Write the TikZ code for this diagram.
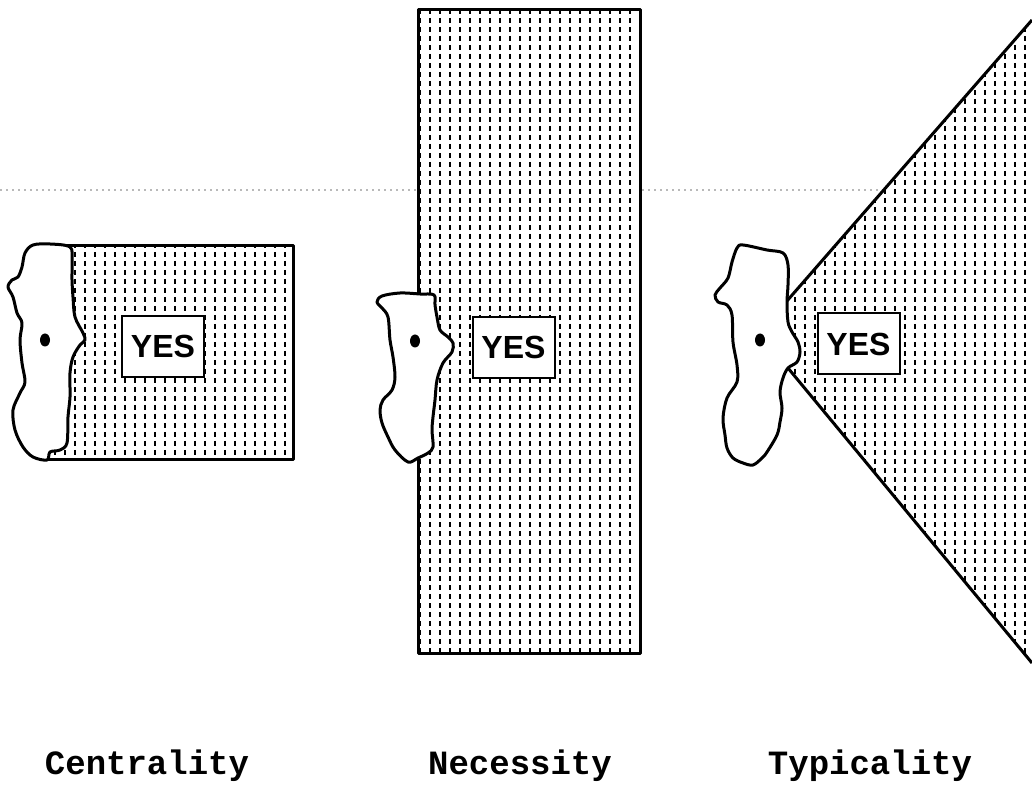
\documentclass[tikz,border=0pt]{standalone}
\usepackage{fontspec}
\newfontfamily\labelfont{Liberation Mono}
\newfontfamily\yesfont{Liberation Sans}
\begin{document}
\begin{tikzpicture}[x=0.5pt,y=-0.5pt,
  outline/.style={line width=1.5pt, line join=round},
  hatch/.style={line width=1.2pt, dash pattern=on 2.5pt off 2pt},
  blob/.style={outline, fill=white},
  dot/.style={fill=black},
  yesbox/.style={draw, line width=1pt, fill=white, minimum width=41pt, minimum height=30.5pt, inner sep=0pt,
    font=\yesfont\bfseries\fontsize{16}{16}\selectfont},
  caption/.style={font=\labelfont\bfseries\fontsize{17}{17}\selectfont, anchor=base, inner sep=0pt}]
\useasboundingbox[fill=white] (0,0) rectangle (1032,785);

% faint scanner line
\draw[gray!55, line width=0.6pt, dash pattern=on 1pt off 2pt] (0,190) -- (1032,190);

% ---------- Panel 1: Centrality ----------
\fill[white] (45,246) rectangle (293,460);
\begin{scope}
  \clip (45,246) rectangle (293,460);
  \foreach \x in {45,55,...,295} \draw[hatch] (\x,0) -- (\x,785);
\end{scope}
\draw[outline] (45,246) rectangle (293,460);
\draw[blob] plot[smooth cycle, tension=0.55] coordinates {
  (33,245) (50,244) (70,247) (72,260) (72,280) (73,297) (75,317) (83,333) (85,340) (80,345)
  (73,357) (70,373) (70,397) (68,417) (67,443) (60,450) (50,452) (47,460) (33,457) (23,447)
  (15,430) (13,410) (20,393) (25,382) (22,363) (20,340) (22,323) (17,313) (13,297) (8,287)
  (12,280) (18,277) (22,267) (25,253)};
\fill[dot] (45,340) ellipse [x radius=5, y radius=6.5];
\node[yesbox] (yes1) at (163,346.5) {YES};

% ---------- Panel 2: Necessity ----------
\fill[white] (418,10) rectangle (640,653);
\begin{scope}
  \clip (418,10) rectangle (640,653);
  \foreach \x in {420,430,...,640} \draw[hatch] (\x,0) -- (\x,785);
\end{scope}
\draw[outline] (418,10) rectangle (640,653);
\draw[blob] plot[smooth cycle, tension=0.55] coordinates {
  (382,296) (400,293) (420,294) (434,295) (435,305) (437,317) (440,330) (448,337) (453,343)
  (452,352) (443,363) (437,380) (435,400) (433,417) (432,430) (433,447) (428,453) (418,458)
  (408,462) (395,450) (388,437) (382,423) (380,410) (383,400) (392,390) (395,377) (393,357)
  (390,340) (388,317) (382,308) (377,302)};
\fill[dot] (415,341) ellipse [x radius=5, y radius=6.5];
\node[yesbox] (yes2) at (513.5,347.5) {YES};

% ---------- Panel 3: Typicality ----------
\fill[white] (759,333) -- (1032,20) -- (1032,663) -- cycle;
\begin{scope}
  \clip (759,333) -- (1032,20) -- (1032,663) -- cycle;
  \foreach \x in {765,775,...,1035} \draw[hatch] (\x,0) -- (\x,785);
\end{scope}
\draw[outline] (1032,20) -- (759,333) -- (1032,663);
\draw[blob] plot[smooth cycle, tension=0.55] coordinates {
  (743,245) (767,250) (783,253) (788,265) (788,285) (787,302) (788,322) (792,332) (798,342)
  (800,352) (797,362) (788,368) (783,378) (780,392) (782,408) (780,422) (777,435) (767,452)
  (762,458) (753,465) (743,463) (733,458) (727,448) (725,435) (723,418) (727,398) (737,382)
  (737,365) (733,342) (732,315) (727,305) (718,302) (715,295) (720,288) (728,278) (732,262)
  (737,248)};
\fill[dot] (760,340) ellipse [x radius=5, y radius=6.5];
\node[yesbox] (yes3) at (858.5,344) {YES};

% ---------- Captions ----------
\node[caption] (cap1) at (147,774) {Centrality};
\node[caption] (cap2) at (520,774) {Necessity};
\node[caption] (cap3) at (870,774) {Typicality};
\end{tikzpicture}
\end{document}
